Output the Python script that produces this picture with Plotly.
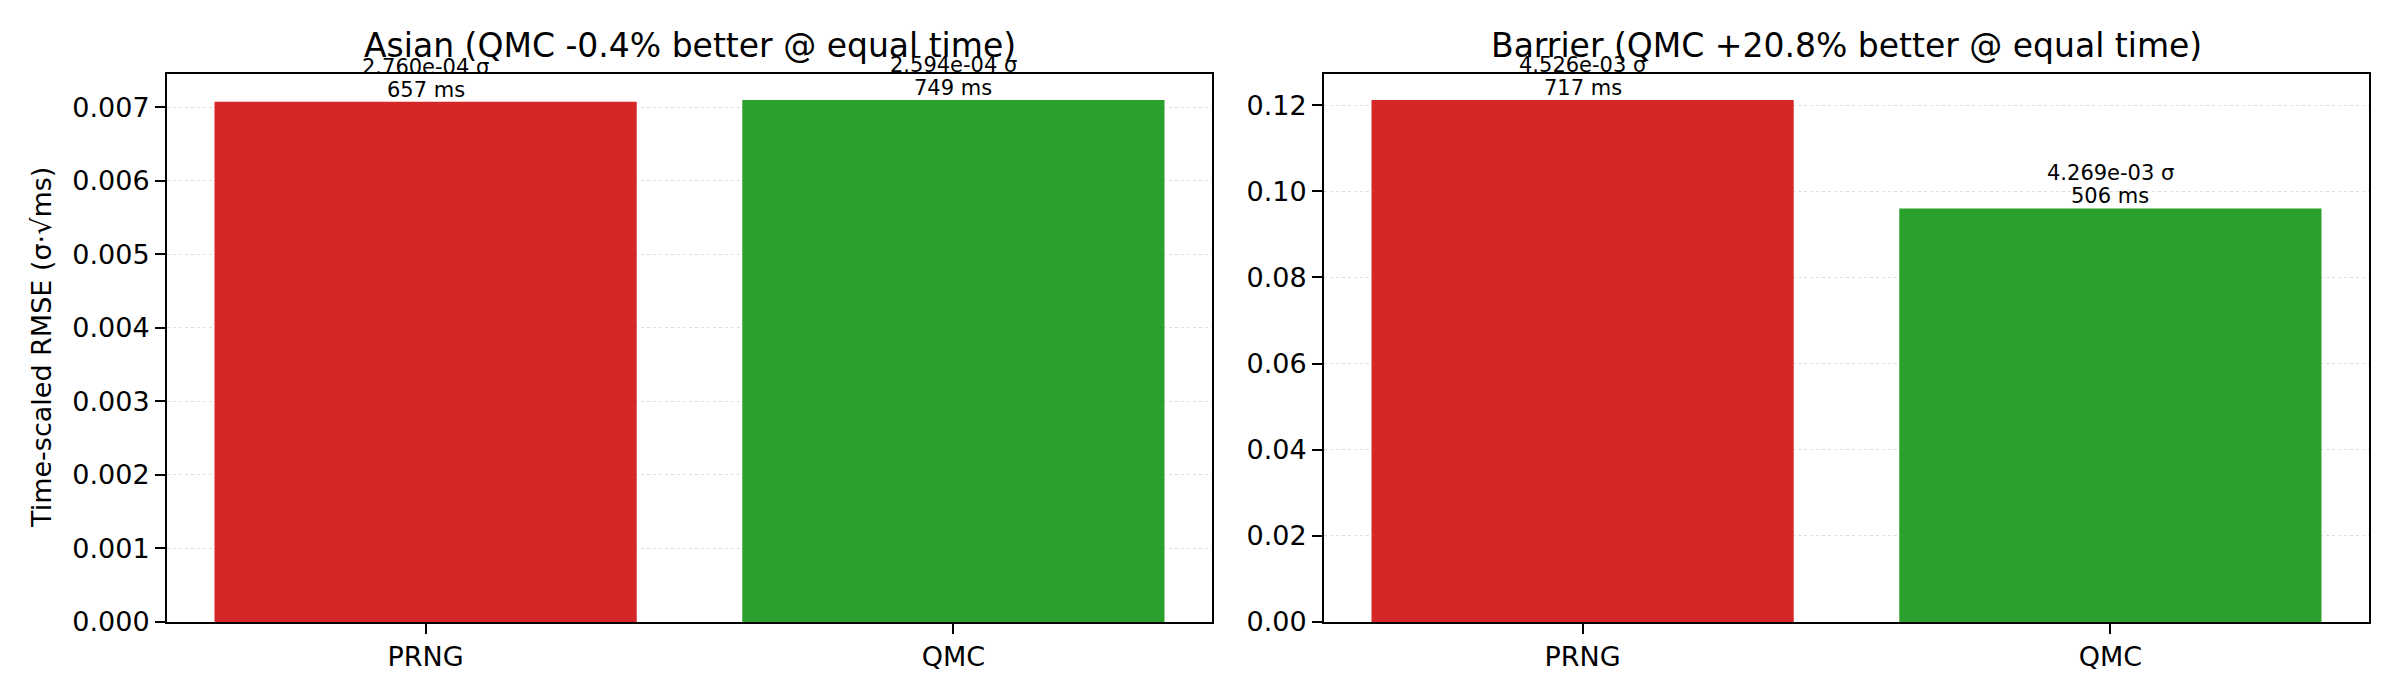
import plotly.graph_objects as go

methods = ["PRNG", "QMC"]
colors = ["#d62728", "#2ca02c"]

asian_values = [0.007075, 0.007099]
asian_sigma = ["2.760e-04 σ", "2.594e-04 σ"]
asian_ms = ["657 ms", "749 ms"]

barrier_values = [0.12119, 0.09603]
barrier_sigma = ["4.526e-03 σ", "4.269e-03 σ"]
barrier_ms = ["717 ms", "506 ms"]

titles = ["Asian (QMC -0.4% better @ equal time)", "Barrier (QMC +20.8% better @ equal time)"]
ylabel = "Time-scaled RMSE (σ·√ms)"

W, H = 2400, 700
dom1 = [167 / W, 1212 / W]
dom2 = [1324 / W, 2369 / W]
ydom = [1 - 622 / H, 1 - 74 / H]

FONT = "DejaVu Sans"

fig = go.Figure()
fig.add_trace(go.Bar(x=methods, y=asian_values, marker=dict(color=colors, line=dict(width=0)),
                     width=0.8, xaxis="x", yaxis="y", showlegend=False, hoverinfo="skip"))
fig.add_trace(go.Bar(x=methods, y=barrier_values, marker=dict(color=colors, line=dict(width=0)),
                     width=0.8, xaxis="x2", yaxis="y2", showlegend=False, hoverinfo="skip"))

annotations = []
for xref, yref, vals, sig, ms in [("x", "y", asian_values, asian_sigma, asian_ms),
                                  ("x2", "y2", barrier_values, barrier_sigma, barrier_ms)]:
    for m, v, s, t in zip(methods, vals, sig, ms):
        annotations.append(dict(x=m, y=v, xref=xref, yref=yref, text=t,
                                showarrow=False, xanchor="center", yanchor="bottom", yshift=-2,
                                font=dict(family=FONT, size=21, color="black")))
        annotations.append(dict(x=m, y=v, xref=xref, yref=yref, text=s,
                                showarrow=False, xanchor="center", yanchor="bottom", yshift=21,
                                font=dict(family=FONT, size=21, color="black")))

for dom, title in [(dom1, titles[0]), (dom2, titles[1])]:
    annotations.append(dict(x=(dom[0] + dom[1]) / 2, y=ydom[1], xref="paper", yref="paper",
                            text=title, showarrow=False, xanchor="center", yanchor="bottom", yshift=7,
                            font=dict(family=FONT, size=33, color="black")))

annotations.append(dict(x=41 / W, y=(ydom[0] + ydom[1]) / 2, xref="paper", yref="paper",
                        text=ylabel, showarrow=False, textangle=-90, xanchor="center",
                        yanchor="middle", font=dict(family=FONT, size=27, color="black")))

axis_common = dict(showline=True, linecolor="black", linewidth=2, mirror=True,
                   ticks="outside", ticklen=10, tickwidth=2, tickcolor="black",
                   tickfont=dict(family=FONT, size=27, color="black"), automargin=False, zeroline=False)

fig.update_layout(
    width=W, height=H,
    margin=dict(l=0, r=0, t=0, b=0),
    paper_bgcolor="white", plot_bgcolor="white",
    annotations=annotations,
    xaxis=dict(domain=dom1, anchor="y", range=[-0.49, 1.49], showgrid=False, type="category", **axis_common),
    xaxis2=dict(domain=dom2, anchor="y2", range=[-0.49, 1.49], showgrid=False, type="category", **axis_common),
    yaxis=dict(domain=ydom, anchor="x", range=[0, 0.007454], dtick=0.001, tickformat=".3f",
               showgrid=True, gridcolor="#dedede", griddash="dot", gridwidth=1.3, **axis_common),
    yaxis2=dict(domain=ydom, anchor="x2", range=[0, 0.12725], dtick=0.02, tickformat=".2f",
                showgrid=True, gridcolor="#dedede", griddash="dot", gridwidth=1.3, **axis_common),
)

fig.write_html("out.html", config={"displayModeBar": False},
               post_script="document.body.style.margin='0px';document.body.style.padding='0px';")
